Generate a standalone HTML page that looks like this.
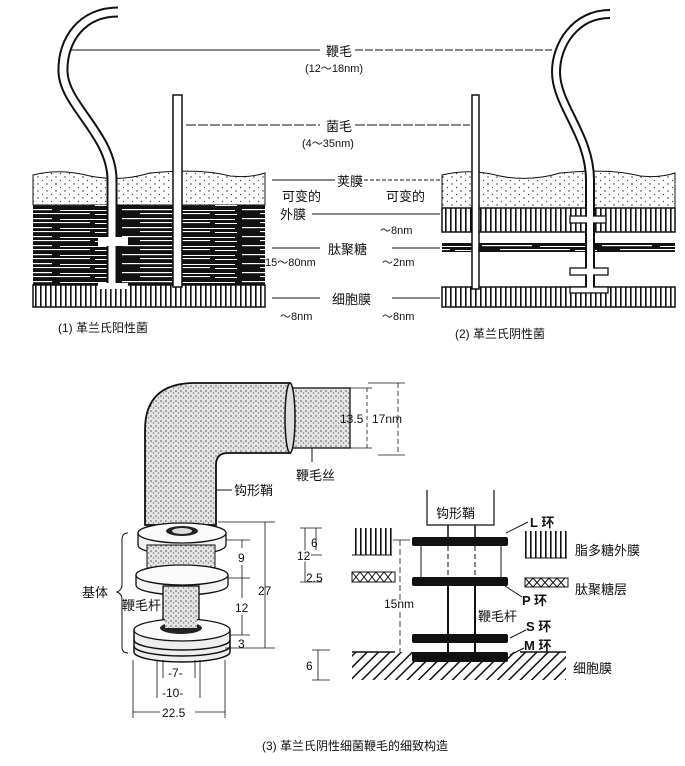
<!DOCTYPE html>
<html><head><meta charset="utf-8"><style>
html,body{margin:0;padding:0;background:#fff;}
svg{display:block;}
text{font-family:"Liberation Sans","Noto Sans CJK SC",sans-serif;fill:#111;}
</style></head><body>
<svg width="685" height="766" viewBox="0 0 685 766" xmlns="http://www.w3.org/2000/svg">
<defs>
<pattern id="dots" width="9" height="7" patternUnits="userSpaceOnUse">
<rect width="9" height="7" fill="#fff"/><circle cx="2" cy="2" r="0.7" fill="#222"/><circle cx="6.5" cy="5.5" r="0.6" fill="#333"/>
</pattern>
<pattern id="stip" width="5" height="5" patternUnits="userSpaceOnUse">
<rect width="5" height="5" fill="#e4e4e4"/><circle cx="1" cy="1" r="0.8" fill="#555"/><circle cx="3.5" cy="3" r="0.7" fill="#777"/>
</pattern>
<pattern id="vert" width="5" height="10" patternUnits="userSpaceOnUse">
<rect width="5" height="10" fill="#fff"/><rect x="0" width="1.6" height="10" fill="#111"/>
</pattern>
<pattern id="hatch" width="8" height="8" patternUnits="userSpaceOnUse" patternTransform="rotate(45)">
<rect width="8" height="8" fill="#fff"/><rect width="1.5" height="8" fill="#111"/>
</pattern>
<pattern id="stripes" width="120" height="9" patternUnits="userSpaceOnUse">
<rect width="120" height="9" fill="#111"/>
<rect x="2" y="2" width="50" height="1.2" fill="#fff"/><rect x="60" y="3" width="55" height="1" fill="#fff"/>
<rect x="20" y="6" width="70" height="1.1" fill="#fff"/><rect x="95" y="7" width="22" height="1" fill="#fff"/>
</pattern>
</defs>

<!-- ===== Top left block (Gram+) ===== -->
<path d="M33,175 Q60,168 90,176 Q120,182 150,173 Q200,168 230,176 Q250,178 265,173 L265,205 L33,205Z" fill="url(#dots)" stroke="#111" stroke-width="1"/>
<rect x="33" y="205" width="232" height="80" fill="url(#stripes)"/>
<rect x="33" y="285" width="232" height="22" fill="url(#vert)" stroke="#111" stroke-width="1.5"/>
<path d="M118,12 C82,12 62,40 63,72 C64,105 112,135 112,180 L112,287" fill="none" stroke="#111" stroke-width="11"/>
<path d="M118,12 C82,12 62,40 63,72 C64,105 112,135 112,180 L112,287" fill="none" stroke="#fff" stroke-width="7"/>
<rect x="98" y="237" width="30" height="9" fill="#fff"/>
<rect x="98" y="283" width="30" height="6" fill="#fff"/>
<rect x="173" y="95" width="9" height="192" fill="#fff" stroke="#111" stroke-width="1.5"/>

<!-- ===== Top right block (Gram-) ===== -->
<path d="M442,175 Q470,168 500,176 Q530,182 560,173 Q610,168 640,176 Q660,178 675,173 L675,208 L442,208Z" fill="url(#dots)" stroke="#111" stroke-width="1"/>
<rect x="442" y="208" width="233" height="24" fill="url(#vert)" stroke="#111" stroke-width="1.5"/>
<rect x="442" y="243" width="233" height="9" fill="url(#stripes)"/>
<rect x="442" y="287" width="233" height="20" fill="url(#vert)" stroke="#111" stroke-width="1.5"/>
<rect x="472" y="95" width="7" height="194" fill="#fff" stroke="#111" stroke-width="1.5"/>
<path d="M610,14 C575,14 556,45 556,72 C556,105 590,135 590,180 L590,290" fill="none" stroke="#111" stroke-width="10"/>
<path d="M610,14 C575,14 556,45 556,72 C556,105 590,135 590,180 L590,290" fill="none" stroke="#fff" stroke-width="6"/>
<rect x="570" y="216" width="36" height="7" fill="#fff" stroke="#111" stroke-width="1.3"/>
<rect x="570" y="268" width="38" height="7" fill="#fff" stroke="#111" stroke-width="1.3"/>
<rect x="570" y="287" width="38" height="6" fill="#fff" stroke="#111" stroke-width="1.3"/>
<rect x="587" y="210" width="6" height="82" fill="#fff"/>

<line x1="70" y1="50" x2="320" y2="50" stroke="#111" stroke-width="1"/>
<line x1="355" y1="50" x2="552" y2="50" stroke="#111" stroke-width="1" stroke-dasharray="8,2"/>
<text x="326" y="56" font-size="13">鞭毛</text>
<text x="305" y="72" font-size="11">(12～18nm)</text>
<line x1="186" y1="125" x2="320" y2="125" stroke="#111" stroke-width="1" stroke-dasharray="10,2"/>
<line x1="355" y1="125" x2="470" y2="125" stroke="#111" stroke-width="1" stroke-dasharray="10,2"/>
<text x="326" y="131" font-size="13">菌毛</text>
<text x="302" y="147" font-size="11">(4～35nm)</text>

<line x1="272" y1="180" x2="335" y2="180" stroke="#111" stroke-width="1"/>
<line x1="358" y1="180" x2="440" y2="180" stroke="#111" stroke-width="1" stroke-dasharray="4,2"/>
<text x="337" y="186" font-size="13">荚膜</text>
<text x="282" y="201" font-size="13">可变的</text>
<text x="386" y="201" font-size="13">可变的</text>
<text x="280" y="219" font-size="13">外膜</text>
<line x1="312" y1="214" x2="440" y2="214" stroke="#111" stroke-width="1"/>
<text x="380" y="234" font-size="11">～8nm</text>
<line x1="272" y1="248" x2="320" y2="248" stroke="#111" stroke-width="1"/>
<text x="328" y="254" font-size="13">肽聚糖</text>
<line x1="392" y1="248" x2="440" y2="248" stroke="#111" stroke-width="1"/>
<text x="265" y="266" font-size="11">15～80nm</text>
<text x="382" y="266" font-size="11">～2nm</text>
<line x1="272" y1="298" x2="320" y2="298" stroke="#111" stroke-width="1"/>
<text x="332" y="304" font-size="13">细胞膜</text>
<line x1="392" y1="298" x2="440" y2="298" stroke="#111" stroke-width="1"/>
<text x="280" y="320" font-size="11">～8nm</text>
<text x="382" y="320" font-size="11">～8nm</text>
<text x="58" y="332" font-size="12">(1) 革兰氏阳性菌</text>
<text x="455" y="338" font-size="12">(2) 革兰氏阴性菌</text>

<!-- ===== Bottom left 3D flagellum ===== -->
<path d="M145,525 L145,430 Q145,383 195,383 L290,383 L290,453 L228,453 Q216,453 216,465 L216,525Z" fill="url(#stip)" stroke="#111" stroke-width="1.8"/>
<rect x="290" y="388" width="60" height="60" fill="url(#stip)" stroke="#111" stroke-width="1.3"/>
<ellipse cx="290" cy="418" rx="5" ry="35" fill="#ddd" stroke="#111" stroke-width="1.5"/>
<path d="M138,533 L138,545 A44,10 0 0 0 226,545 L226,533Z" fill="#f3f3f3" stroke="#111" stroke-width="1.3"/>
<ellipse cx="182" cy="533" rx="44" ry="10" fill="#fafafa" stroke="#111" stroke-width="1.3"/>
<ellipse cx="182" cy="531" rx="16" ry="5" fill="#222"/>
<ellipse cx="182" cy="531" rx="10" ry="3" fill="#ddd"/>
<rect x="147" y="545" width="68" height="25" fill="url(#stip)" stroke="#111" stroke-width="1"/>
<path d="M136,575 L136,585 A46,10 0 0 0 228,585 L228,575Z" fill="#f3f3f3" stroke="#111" stroke-width="1.3"/>
<ellipse cx="182" cy="575" rx="46" ry="10" fill="#fafafa" stroke="#111" stroke-width="1.3"/>
<rect x="163" y="586" width="36" height="45" fill="url(#stip)" stroke="#111" stroke-width="1.3"/>
<path d="M134,630 L134,652 A48,10 0 0 0 230,652 L230,630Z" fill="#eee" stroke="#111" stroke-width="1.5"/>
<path d="M134,640 A48,10 0 0 0 230,640" fill="none" stroke="#111" stroke-width="1.5"/>
<path d="M134,646 A48,10 0 0 0 230,646" fill="none" stroke="#111" stroke-width="1.5"/>
<ellipse cx="182" cy="630" rx="48" ry="11" fill="#fafafa" stroke="#111" stroke-width="1.3"/>
<ellipse cx="181" cy="628" rx="21" ry="6" fill="#222"/>
<rect x="165" y="610" width="32" height="18" fill="url(#stip)"/>
<path d="M128,533 Q122,533 122,540 L122,585 Q122,590 117,592 Q122,594 122,599 L122,647 Q122,653 128,653" fill="none" stroke="#111" stroke-width="1"/>
<text x="82" y="597" font-size="13">基体</text>
<text x="122" y="610" font-size="13">鞭毛杆</text>
<line x1="218" y1="522" x2="275" y2="522" stroke="#111" stroke-width="0.8"/>
<line x1="265" y1="522" x2="265" y2="648" stroke="#111" stroke-width="0.8"/>
<line x1="225" y1="648" x2="275" y2="648" stroke="#111" stroke-width="0.8"/>
<text x="258" y="595" font-size="12">27</text>
<line x1="226" y1="540" x2="250" y2="540" stroke="#111" stroke-width="0.8"/>
<line x1="228" y1="578" x2="250" y2="578" stroke="#111" stroke-width="0.8"/>
<line x1="230" y1="635" x2="250" y2="635" stroke="#111" stroke-width="0.8"/>
<line x1="242" y1="540" x2="242" y2="548" stroke="#111" stroke-width="0.8"/>
<line x1="242" y1="565" x2="242" y2="598" stroke="#111" stroke-width="0.8"/>
<line x1="242" y1="615" x2="242" y2="635" stroke="#111" stroke-width="0.8"/>
<text x="238" y="562" font-size="12">9</text>
<text x="235" y="612" font-size="12">12</text>
<text x="238" y="648" font-size="12">3</text>
<line x1="157" y1="660" x2="157" y2="698" stroke="#111" stroke-width="0.8"/>
<line x1="163" y1="660" x2="163" y2="678" stroke="#111" stroke-width="0.8"/>
<line x1="195" y1="660" x2="195" y2="678" stroke="#111" stroke-width="0.8"/>
<line x1="200" y1="660" x2="200" y2="698" stroke="#111" stroke-width="0.8"/>
<line x1="133" y1="660" x2="133" y2="718" stroke="#111" stroke-width="0.8"/>
<line x1="225" y1="660" x2="225" y2="718" stroke="#111" stroke-width="0.8"/>
<text x="168" y="677" font-size="12">-7-</text>
<text x="162" y="697" font-size="12">-10-</text>
<line x1="133" y1="712" x2="160" y2="712" stroke="#111" stroke-width="0.8"/>
<line x1="195" y1="712" x2="225" y2="712" stroke="#111" stroke-width="0.8"/>
<text x="162" y="717" font-size="12">22.5</text>
<line x1="350" y1="388" x2="372" y2="388" stroke="#111" stroke-width="0.8"/>
<line x1="350" y1="448" x2="372" y2="448" stroke="#111" stroke-width="0.8"/>
<line x1="367" y1="388" x2="367" y2="448" stroke="#111" stroke-width="0.8" stroke-dasharray="4,3"/>
<line x1="368" y1="383" x2="405" y2="383" stroke="#111" stroke-width="0.8"/>
<line x1="378" y1="455" x2="405" y2="455" stroke="#111" stroke-width="0.8"/>
<line x1="398" y1="383" x2="398" y2="455" stroke="#111" stroke-width="0.8" stroke-dasharray="5,3"/>
<text x="340" y="423" font-size="12">13.5</text>
<text x="372" y="423" font-size="12">17nm</text>
<line x1="312" y1="448" x2="312" y2="462" stroke="#111" stroke-width="1"/>
<text x="296" y="480" font-size="13">鞭毛丝</text>
<line x1="216" y1="490" x2="232" y2="490" stroke="#111" stroke-width="1"/>
<text x="234" y="495" font-size="13">钩形鞘</text>

<!-- ===== Bottom right schematic ===== -->
<path d="M427,490 L427,525 L494,525 L494,490" fill="none" stroke="#111" stroke-width="1.2"/>
<text x="436" y="518" font-size="13">钩形鞘</text>
<line x1="448" y1="525" x2="448" y2="537" stroke="#111" stroke-width="1.5"/>
<line x1="475" y1="525" x2="475" y2="537" stroke="#111" stroke-width="1.5"/>
<line x1="448" y1="546" x2="448" y2="577" stroke="#111" stroke-width="1" stroke-dasharray="5,3"/>
<line x1="475" y1="546" x2="475" y2="577" stroke="#111" stroke-width="1" stroke-dasharray="5,3"/>
<line x1="421" y1="546" x2="421" y2="577" stroke="#111" stroke-width="1"/>
<line x1="501" y1="546" x2="501" y2="577" stroke="#111" stroke-width="1"/>
<line x1="448" y1="586" x2="448" y2="655" stroke="#111" stroke-width="2"/>
<line x1="475" y1="586" x2="475" y2="655" stroke="#111" stroke-width="2"/>
<rect x="352" y="652" width="214" height="28" fill="url(#hatch)"/>
<line x1="352" y1="652" x2="395" y2="652" stroke="#111" stroke-width="1.5"/>
<line x1="520" y1="652" x2="566" y2="652" stroke="#111" stroke-width="1.5"/>
<rect x="412" y="537" width="96" height="9" rx="2" fill="#111"/>
<rect x="412" y="577" width="96" height="9" rx="2" fill="#111"/>
<rect x="412" y="634" width="96" height="9" rx="2" fill="#111"/>
<rect x="412" y="652" width="96" height="10" rx="2" fill="#111"/>
<rect x="352" y="528" width="40" height="27" fill="url(#vert)"/>
<line x1="352" y1="555" x2="392" y2="555" stroke="#111"/>
<rect x="352" y="572" width="43" height="10" fill="#fff" stroke="#111" stroke-width="1"/>
<path d="M352,582 l8,-10 l8,10 l8,-10 l8,10 l8,-10 M352,572 l8,10 l8,-10 l8,10 l8,-10 l8,10" fill="none" stroke="#111" stroke-width="1"/>
<rect x="525" y="531" width="42" height="27" fill="url(#vert)"/>
<line x1="525" y1="558" x2="567" y2="558" stroke="#111"/>
<rect x="525" y="578" width="43" height="9" fill="#fff" stroke="#111" stroke-width="1"/>
<path d="M525,587 l8,-9 l8,9 l8,-9 l8,9 l8,-9 M525,578 l8,9 l8,-9 l8,9 l8,-9 l8,9" fill="none" stroke="#111" stroke-width="1"/>
<line x1="300" y1="528" x2="322" y2="528" stroke="#111" stroke-width="0.8"/>
<line x1="305" y1="555" x2="322" y2="555" stroke="#111" stroke-width="0.8"/>
<line x1="300" y1="582" x2="322" y2="582" stroke="#111" stroke-width="0.8"/>
<line x1="316" y1="528" x2="316" y2="550" stroke="#111" stroke-width="0.8"/>
<line x1="305" y1="528" x2="305" y2="582" stroke="#111" stroke-width="0.8"/>
<text x="311" y="547" font-size="12">6</text>
<text x="297" y="560" font-size="12" style="paint-order:stroke" stroke="#fff" stroke-width="3">12</text>
<text x="306" y="582" font-size="12">2.5</text>
<line x1="393" y1="540" x2="410" y2="540" stroke="#111" stroke-width="0.8"/>
<line x1="400" y1="540" x2="400" y2="652" stroke="#111" stroke-width="0.8" stroke-dasharray="6,3"/>
<text x="384" y="608" font-size="12" style="paint-order:stroke" stroke="#fff" stroke-width="3">15nm</text>
<line x1="312" y1="650" x2="330" y2="650" stroke="#111" stroke-width="0.8"/>
<line x1="312" y1="680" x2="330" y2="680" stroke="#111" stroke-width="0.8"/>
<line x1="318" y1="650" x2="318" y2="680" stroke="#111" stroke-width="0.8"/>
<text x="306" y="670" font-size="12">6</text>
<line x1="506" y1="533" x2="528" y2="522" stroke="#111" stroke-width="1"/>
<text x="530" y="527" font-size="13" font-weight="bold">L 环</text>
<text x="575" y="555" font-size="13">脂多糖外膜</text>
<text x="575" y="594" font-size="13">肽聚糖层</text>
<line x1="505" y1="586" x2="522" y2="597" stroke="#111" stroke-width="1"/>
<text x="522" y="605" font-size="13" font-weight="bold">P 环</text>
<text x="478" y="621" font-size="13">鞭毛杆</text>
<text x="526" y="631" font-size="13" font-weight="bold">S 环</text>
<line x1="510" y1="638" x2="526" y2="630" stroke="#111" stroke-width="1"/>
<text x="524" y="650" font-size="13" font-weight="bold">M 环</text>
<line x1="510" y1="655" x2="524" y2="648" stroke="#111" stroke-width="1"/>
<text x="573" y="673" font-size="13">细胞膜</text>

<text x="262" y="750" font-size="12">(3) 革兰氏阴性细菌鞭毛的细致构造</text>
</svg>
</body></html>
